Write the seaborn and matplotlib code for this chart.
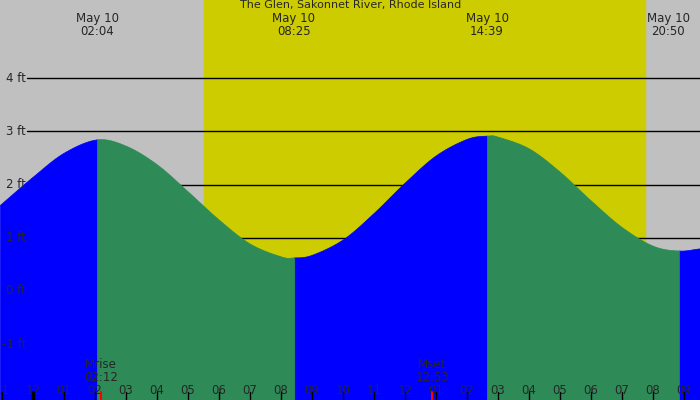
import numpy as np
import pandas as pd
import matplotlib
matplotlib.use("Agg")
import matplotlib.pyplot as plt
import seaborn as sns

sns.set_style("white")
plt.rcParams["font.family"] = ["DejaVu Sans"]

# hours since midnight May 10, tide height in ft
hours = [-1.06, 0, 1, 2.07, 3, 4, 5, 6, 7, 8, 8.42, 9, 10, 11, 12, 13, 14, 14.65,
         15, 16, 17, 18, 19, 20, 20.83, 21.5]
height = [1.62, 2.15, 2.6, 2.85, 2.73, 2.38, 1.87, 1.34, 0.89, 0.65, 0.63, 0.68, 0.97,
          1.47, 2.04, 2.55, 2.86, 2.92, 2.90, 2.68, 2.24, 1.70, 1.20, 0.85, 0.76, 0.80]
extreme_hours = [2.07, 8.42, 14.65, 20.83]
extreme_labels = ["02:04", "08:25", "14:39", "20:50"]
sunrise, sunset = 5.52, 19.74
moon_hours = [2.2, 12.88]
moon_labels = ["Mrise\n02:12", "Mset\n12:53"]
tick_labels = ["11", "12", "01", "02", "03", "04", "05", "06", "07", "08", "09", "10",
               "11", "12", "01", "02", "03", "04", "05", "06", "07", "08", "09"]

df = pd.DataFrame({"t": hours, "h": height})
x0, x1, y0, y1 = -1.06, 21.52, -2.05, 5.47


def smooth(t, h, n=30):
    # catmull-rom through the read points, just to draw a smooth curve
    t = np.asarray(t, float); h = np.asarray(h, float)
    P = np.column_stack([t, h])
    P = np.vstack([2 * P[0] - P[1], P, 2 * P[-1] - P[-2]])
    out = []
    for i in range(1, len(P) - 2):
        p0, p1, p2, p3 = P[i - 1], P[i], P[i + 1], P[i + 2]
        s = np.linspace(0, 1, n, endpoint=False)[:, None]
        out.append(0.5 * (2 * p1 + (-p0 + p2) * s + (2 * p0 - 5 * p1 + 4 * p2 - p3) * s**2
                          + (-p0 + 3 * p1 - 3 * p2 + p3) * s**3))
    out.append(P[-2][None, :])
    out = np.vstack(out)
    return out[:, 0], out[:, 1]


fig = plt.figure(figsize=(7, 4), dpi=100)
ax = fig.add_axes([0, 0, 1, 1])
ax.set_xlim(x0, x1)
ax.set_ylim(y0, y1)
ax.set_facecolor("#c0c0c0")
ax.axvspan(sunrise, sunset, color="#cccc00", zorder=0)
for s in ax.spines.values():
    s.set_visible(False)

for lv in [1, 2, 3, 4]:
    ax.plot([-0.2, x1], [lv, lv], color="black", lw=1, zorder=1)
for lv in [4, 3, 2, 1, 0, -1]:
    ax.text(-0.88 if lv >= 0 else -0.98, lv, f"{lv} ft", fontsize=8.5, va="center", ha="left", zorder=5)

st, sh = smooth(df.t, df.h)
fine = np.linspace(x0, x1, 1200)
fh = np.interp(fine, st, sh)
bounds = [x0] + extreme_hours + [x1]
for i in range(len(bounds) - 1):
    m = (fine >= bounds[i] - 0.02) & (fine <= bounds[i + 1] + 0.02)
    col = "#0000ff" if i % 2 == 0 else "#2e8b57"
    ax.fill_between(fine[m], y0, fh[m], color=col, lw=0.5, edgecolor=col, zorder=2 + (i % 2))

for t, lab in zip(extreme_hours, extreme_labels):
    xt = 20.5 if t > 20.6 else t
    ax.text(xt, 5.0, f"May 10\n{lab}", ha="center", va="center", fontsize=8.5, linespacing=1.0)
ax.text(10.25, 5.37, "The Glen, Sakonnet River, Rhode Island", ha="center", va="center", fontsize=8)

for t, lab in zip(moon_hours, moon_labels):
    ax.text(t, -1.5, lab, ha="center", va="center", fontsize=8.5, linespacing=1.0, zorder=5)
    ax.plot([t, t], [y0, y0 + 0.15], color="red", lw=1.5, zorder=6)

for k, lab in enumerate(tick_labels):
    t = k - 1
    ax.text(t, -1.87, lab, ha="center", va="center", fontsize=8.5, zorder=5)
    ax.plot([t, t], [y0, y0 + 0.15], color="black", lw=2.5 if t in (0, 24) else 1, zorder=5)

ax.set_xticks([])
ax.set_yticks([])
fig.savefig("out.png", dpi=100)
